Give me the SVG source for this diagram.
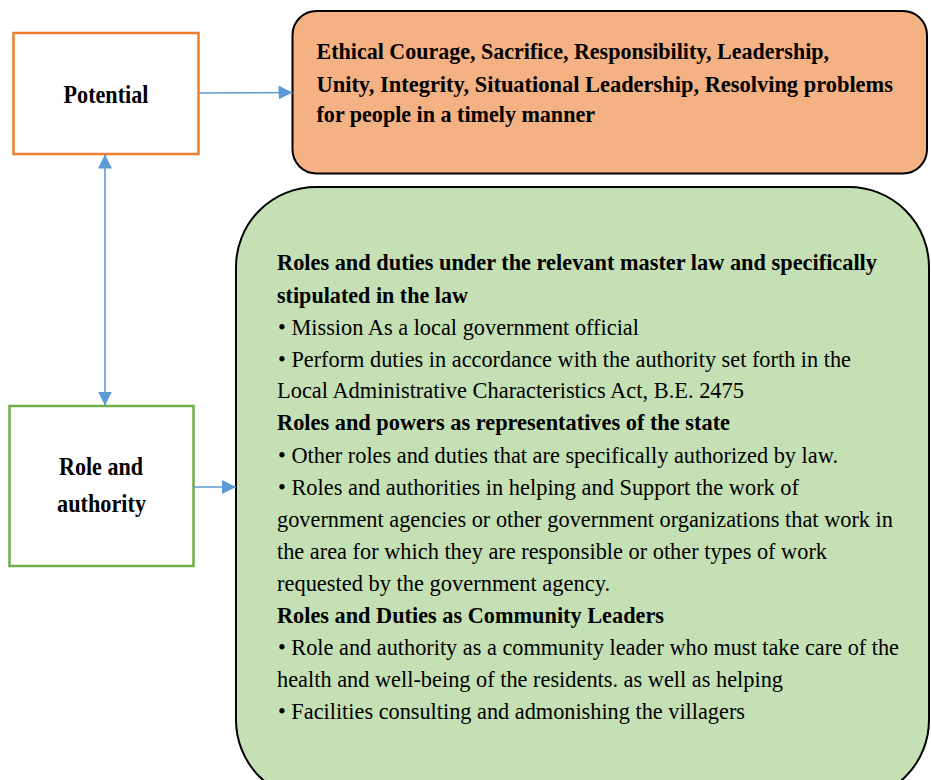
<svg xmlns="http://www.w3.org/2000/svg" width="931" height="780" viewBox="0 0 931 780">
  <style>
    text { font-family: 'Liberation Serif', 'DejaVu Serif', serif; fill: #000; }
    .b { font-weight: bold; }
    .body { font-size: 23px; }
    .lbl { font-size: 25px; font-weight: bold; text-anchor: middle; }
    .conn { stroke: #5B9BD5; stroke-width: 1.6; fill: none; }
  </style>
  <defs>
    <marker id="arrow" markerUnits="userSpaceOnUse" markerWidth="14" markerHeight="14" refX="14" refY="7" orient="auto-start-reverse">
      <path d="M0,0 L14,7 L0,14 Z" fill="#5B9BD5"/>
    </marker>
  </defs>
  <rect width="931" height="780" fill="#fff"/>

  <g id="potential">
    <rect x="13.5" y="33" width="185" height="121" fill="#fff" stroke="#ED7D31" stroke-width="2.5"/>
    <text class="lbl" x="106" y="103" textLength="85" lengthAdjust="spacingAndGlyphs">Potential</text>
  </g>

  <g id="role-authority">
    <rect x="9.5" y="406" width="184" height="160" fill="#fff" stroke="#70AD47" stroke-width="2.5"/>
    <text class="lbl" x="101" y="475" textLength="84" lengthAdjust="spacingAndGlyphs">Role and</text>
    <text class="lbl" x="101.5" y="512" textLength="89" lengthAdjust="spacingAndGlyphs">authority</text>
  </g>

  <g id="qualities">
    <rect x="292.5" y="11" width="634.5" height="162.5" rx="24" ry="24" fill="#F4B183" stroke="#000" stroke-width="2"/>
    <text class="b body" x="316.5" y="59" textLength="512.5" lengthAdjust="spacingAndGlyphs">Ethical Courage, Sacrifice, Responsibility, Leadership,</text>
    <text class="b body" x="316.5" y="91.5" textLength="576.5" lengthAdjust="spacingAndGlyphs">Unity, Integrity, Situational Leadership, Resolving problems</text>
    <text class="b body" x="316.5" y="122" textLength="278.5" lengthAdjust="spacingAndGlyphs">for people in a timely manner</text>
  </g>

  <g id="duties">
    <rect x="236" y="187" width="693" height="613" rx="80" ry="80" fill="#C5E0B4" stroke="#000" stroke-width="2"/>
    <text class="b body" x="277" y="269.5" textLength="600" lengthAdjust="spacingAndGlyphs">Roles and duties under the relevant master law and specifically</text>
    <text class="b body" x="277" y="302.5" textLength="191" lengthAdjust="spacingAndGlyphs">stipulated in the law</text>
    <text class="body" x="278" y="335" textLength="361" lengthAdjust="spacingAndGlyphs">• Mission As a local government official</text>
    <text class="body" x="278" y="366.5" textLength="573" lengthAdjust="spacingAndGlyphs">• Perform duties in accordance with the authority set forth in the</text>
    <text class="body" x="277" y="398" textLength="467" lengthAdjust="spacingAndGlyphs">Local Administrative Characteristics Act, B.E. 2475</text>
    <text class="b body" x="277" y="430" textLength="453" lengthAdjust="spacingAndGlyphs">Roles and powers as representatives of the state</text>
    <text class="body" x="278" y="463" textLength="560" lengthAdjust="spacingAndGlyphs">• Other roles and duties that are specifically authorized by law.</text>
    <text class="body" x="278" y="495" textLength="521" lengthAdjust="spacingAndGlyphs">• Roles and authorities in helping and Support the work of</text>
    <text class="body" x="277" y="527" textLength="616" lengthAdjust="spacingAndGlyphs">government agencies or other government organizations that work in</text>
    <text class="body" x="277" y="558.5" textLength="550" lengthAdjust="spacingAndGlyphs">the area for which they are responsible or other types of work</text>
    <text class="body" x="277" y="590.5" textLength="333" lengthAdjust="spacingAndGlyphs">requested by the government agency.</text>
    <text class="b body" x="277" y="623" textLength="387" lengthAdjust="spacingAndGlyphs">Roles and Duties as Community Leaders</text>
    <text class="body" x="278" y="655" textLength="621" lengthAdjust="spacingAndGlyphs">• Role and authority as a community leader who must take care of the</text>
    <text class="body" x="277" y="687" textLength="506" lengthAdjust="spacingAndGlyphs">health and well-being of the residents. as well as helping</text>
    <text class="body" x="278" y="719" textLength="467" lengthAdjust="spacingAndGlyphs">• Facilities consulting and admonishing the villagers</text>
  </g>

  <g id="connectors">
    <line class="conn" x1="199" y1="93" x2="292.5" y2="92.5" marker-end="url(#arrow)"/>
    <line class="conn" x1="193.5" y1="487" x2="236" y2="487" marker-end="url(#arrow)"/>
    <line class="conn" x1="105" y1="154.5" x2="105" y2="405.5" marker-start="url(#arrow)" marker-end="url(#arrow)"/>
  </g>
</svg>
